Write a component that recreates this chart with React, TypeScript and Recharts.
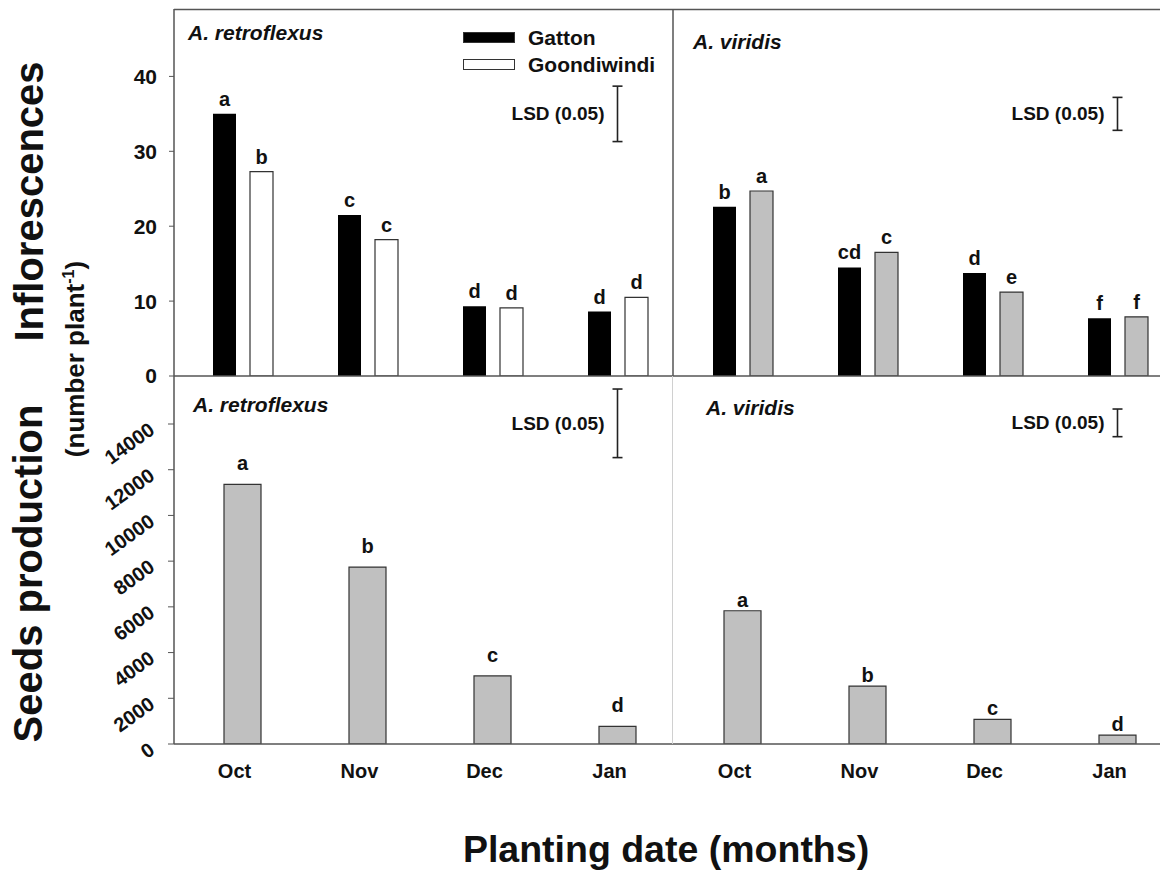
import React from 'react';
import { ComposedChart, Bar, XAxis, YAxis, Cell, LabelList, ReferenceLine, Legend } from 'recharts';

const FONT = '"Liberation Sans", Arial, Helvetica, sans-serif';

// ---- data ----
const months = ['Oct', 'Nov', 'Dec', 'Jan'];

const inflGattonRetro = [35.0, 21.5, 9.3, 8.6];
const inflGoondiRetro = [27.3, 18.2, 9.1, 10.5];
const inflGattonViridis = [22.6, 14.5, 13.75, 7.7];
const inflGoondiViridis = [24.7, 16.5, 11.2, 7.9];

const lettersGattonRetro = ['a', 'c', 'd', 'd'];
const lettersGoondiRetro = ['b', 'c', 'd', 'd'];
const lettersGattonViridis = ['b', 'cd', 'd', 'f'];
const lettersGoondiViridis = ['a', 'c', 'e', 'f'];

const seedsRetro = [11360, 7740, 2980, 770];
const seedsViridis = [5830, 2535, 1075, 390];
const seedLettersRetro = ['a', 'b', 'c', 'd'];
const seedLettersViridis = ['a', 'b', 'c', 'd'];

const inflTicks = [0, 10, 20, 30, 40];
const seedTicks = [0, 2000, 4000, 6000, 8000, 10000, 12000, 14000];

const lsdInflRetro = [31.3, 38.7];
const lsdInflViridis = [32.8, 37.2];
const lsdSeedsRetro = [12530, 15530];
const lsdSeedsViridis = [13445, 14655];

const LSD_LABEL = 'LSD (0.05)';
const seriesNames = ['Gatton', 'Goondiwindi'];

// ---- tables ----
const topData = [
  ...months.map((m, i) => ({
    key: `r-${m}`, gatton: inflGattonRetro[i], goondi: inflGoondiRetro[i],
    gLetter: lettersGattonRetro[i], oLetter: lettersGoondiRetro[i], sp: 'r',
  })),
  ...months.map((m, i) => ({
    key: `v-${m}`, gatton: inflGattonViridis[i], goondi: inflGoondiViridis[i],
    gLetter: lettersGattonViridis[i], oLetter: lettersGoondiViridis[i], sp: 'v',
  })),
];

const bottomData = [
  ...months.map((m, i) => ({ key: `r-${m}`, seeds: seedsRetro[i], letter: seedLettersRetro[i], sp: 'r' })),
  ...months.map((m, i) => ({ key: `v-${m}`, seeds: seedsViridis[i], letter: seedLettersViridis[i], sp: 'v' })),
];

const AXIS = '#555';

const LsdShape = (props: any) => {
  const { x1, y1, y2 } = props;
  const top = Math.min(y1, y2);
  const bot = Math.max(y1, y2);
  return (
    <g>
      <line x1={x1} x2={x1} y1={top} y2={bot} stroke="#222" strokeWidth={1.6} />
      <line x1={x1 - 5} x2={x1 + 5} y1={top} y2={top} stroke="#222" strokeWidth={1.6} />
      <line x1={x1 - 5} x2={x1 + 5} y1={bot} y2={bot} stroke="#222" strokeWidth={1.6} />
      <text x={x1 - 13} y={(top + bot) / 2} textAnchor="end" dominantBaseline="central"
        fontSize={19} fontWeight="bold" fill="#111" fontFamily={FONT}>{LSD_LABEL}</text>
    </g>
  );
};

const SeedTick = (props: any) => {
  const { x, y, payload } = props;
  const tx = x - 6;
  const ty = y + 3;
  return (
    <text x={tx} y={ty} transform={`rotate(-36 ${tx} ${ty})`} textAnchor="end" dominantBaseline="central"
      fontSize={20} fontWeight="bold" fill="#111" fontFamily={FONT}>{payload.value}</text>
  );
};

const MonthTick = (props: any) => {
  const { x, y, payload } = props;
  return (
    <text x={x - 8} y={y} dy="0.71em" textAnchor="middle" fontSize={20} fontWeight="bold" fill="#111" fontFamily={FONT}>
      {String(payload.value).slice(2)}
    </text>
  );
};

const SeedLetter = (props: any) => {
  const { x, y, width, value, index } = props;
  const off = index < 4 ? 14 : 4;
  return (
    <text x={x + width / 2} y={y - off} textAnchor="middle" fontSize={20} fontWeight="bold" fill="#111" fontFamily={FONT}>
      {value}
    </text>
  );
};

const LegendContent = (props: any) => {
  const payload = props.payload || [];
  return (
    <div style={{ fontFamily: FONT }}>
      {payload.map((e: any, i: number) => (
        <div key={i} style={{ display: 'flex', alignItems: 'center', height: 27 }}>
          <svg width={53} height={12} style={{ display: 'block' }}>
            <rect x={0.5} y={0.5} width={51} height={10} fill={e.color} stroke="#333" strokeWidth={1} />
          </svg>
          <span style={{ marginLeft: 12, fontSize: 21, fontWeight: 'bold', color: '#111', lineHeight: '27px' }}>{e.value}</span>
        </div>
      ))}
    </div>
  );
};

export default function App() {
  return (
    <div style={{ position: 'absolute', left: 0, top: 0, width: 1160, height: 883, overflow: 'hidden', background: '#fff', fontFamily: FONT }}>
      {/* top row: inflorescences */}
      <div style={{ position: 'absolute', left: 0, top: 0 }}>
        <ComposedChart width={1200} height={400} data={topData}
          margin={{ top: 9, right: 20, left: 114, bottom: 14 }} barSize={23} barGap={14}>
          <XAxis dataKey="key" tick={false} tickLine={false} height={10} padding={{ left: 6, right: 0 }}
            axisLine={{ stroke: AXIS, strokeWidth: 1.5 }} />
          <YAxis domain={[0, 49]} ticks={inflTicks} interval={0} allowDataOverflow width={60} tickSize={5} tickMargin={12}
            tick={{ fontSize: 21, fontWeight: 'bold', fill: '#111' }}
            axisLine={{ stroke: AXIS, strokeWidth: 1.5 }} tickLine={{ stroke: AXIS }} />
          <Legend layout="vertical" align="center" verticalAlign="middle" content={<LegendContent />}
            wrapperStyle={{ left: 463, top: 24, width: 220, height: 60 }} />
          <Bar dataKey="gatton" name={seriesNames[0]} fill="#000" isAnimationActive={false}>
            <LabelList dataKey="gLetter" position="top" offset={8}
              style={{ fontSize: 20, fontWeight: 'bold', fill: '#111' }} />
          </Bar>
          <Bar dataKey="goondi" name={seriesNames[1]} fill="#fff" stroke="#333" strokeWidth={1.2} isAnimationActive={false}>
            {topData.map((d, i) => (
              <Cell key={i} fill={d.sp === 'r' ? '#fff' : '#c0c0c0'} stroke="#333" />
            ))}
            <LabelList dataKey="oLetter" position="top" offset={8}
              style={{ fontSize: 20, fontWeight: 'bold', fill: '#111' }} />
          </Bar>
          <ReferenceLine segment={[{ x: 'r-Jan', y: lsdInflRetro[0] }, { x: 'r-Jan', y: lsdInflRetro[1] }]} shape={LsdShape} />
          <ReferenceLine segment={[{ x: 'v-Jan', y: lsdInflViridis[0] }, { x: 'v-Jan', y: lsdInflViridis[1] }]} shape={LsdShape} />
        </ComposedChart>
      </div>

      {/* bottom row: seeds production */}
      <div style={{ position: 'absolute', left: 0, top: 366 }}>
        <ComposedChart width={1200} height={418} data={bottomData}
          margin={{ top: 10, right: 20, left: 114, bottom: 0 }} barSize={37}>
          <XAxis dataKey="key" height={40} padding={{ left: 6, right: 0 }} tickLine={false} tickSize={0} tickMargin={20}
            tick={<MonthTick />} interval={0} axisLine={{ stroke: AXIS, strokeWidth: 1.5 }} />
          <YAxis domain={[0, 16100]} ticks={seedTicks} interval={0} allowDataOverflow width={60} tickSize={6} tickMargin={10}
            tick={<SeedTick />} axisLine={{ stroke: AXIS, strokeWidth: 1.5 }} tickLine={{ stroke: AXIS }} />
          <Bar dataKey="seeds" fill="#c0c0c0" stroke="#333" strokeWidth={1.2} isAnimationActive={false}>
            <LabelList dataKey="letter" content={<SeedLetter />} />
          </Bar>
          <ReferenceLine segment={[{ x: 'r-Jan', y: lsdSeedsRetro[0] }, { x: 'r-Jan', y: lsdSeedsRetro[1] }]} shape={LsdShape} />
          <ReferenceLine segment={[{ x: 'v-Jan', y: lsdSeedsViridis[0] }, { x: 'v-Jan', y: lsdSeedsViridis[1] }]} shape={LsdShape} />
        </ComposedChart>
      </div>

      {/* frame lines and titles */}
      <svg width={1160} height={883} style={{ position: 'absolute', left: 0, top: 0, pointerEvents: 'none' }} fontFamily={FONT}>
        <line x1={174} y1={9.5} x2={1160} y2={9.5} stroke={AXIS} strokeWidth={1.5} />
        <line x1={673} y1={9} x2={673} y2={376} stroke={AXIS} strokeWidth={1.5} />
        <line x1={672.5} y1={376} x2={672.5} y2={744} stroke="#d0d0d0" strokeWidth={1} />

        <text x={188} y={40} fontSize={21} fontWeight="bold" fontStyle="italic" fill="#111">A. retroflexus</text>
        <text x={693} y={49} fontSize={21} fontWeight="bold" fontStyle="italic" fill="#111">A. viridis</text>
        <text x={193} y={411.5} fontSize={21} fontWeight="bold" fontStyle="italic" fill="#111">A. retroflexus</text>
        <text x={706} y={415} fontSize={21} fontWeight="bold" fontStyle="italic" fill="#111">A. viridis</text>

        <text transform="translate(43 201.5) rotate(-90)" textAnchor="middle" fontSize={40} fontWeight="bold" fill="#111">Inflorescences</text>
        <text transform="translate(84 359) rotate(-90)" textAnchor="middle" fontSize={26} fontWeight="bold" fill="#111">
          (number plant<tspan fontSize={16} dy={-10}>-1</tspan><tspan dy={10}>)</tspan>
        </text>
        <text transform="translate(42 573.5) rotate(-90)" textAnchor="middle" fontSize={40} fontWeight="bold" fill="#111">Seeds production</text>
        <text x={666} y={862} textAnchor="middle" fontSize={37.5} fontWeight="bold" fill="#111">Planting date (months)</text>
      </svg>
    </div>
  );
}
